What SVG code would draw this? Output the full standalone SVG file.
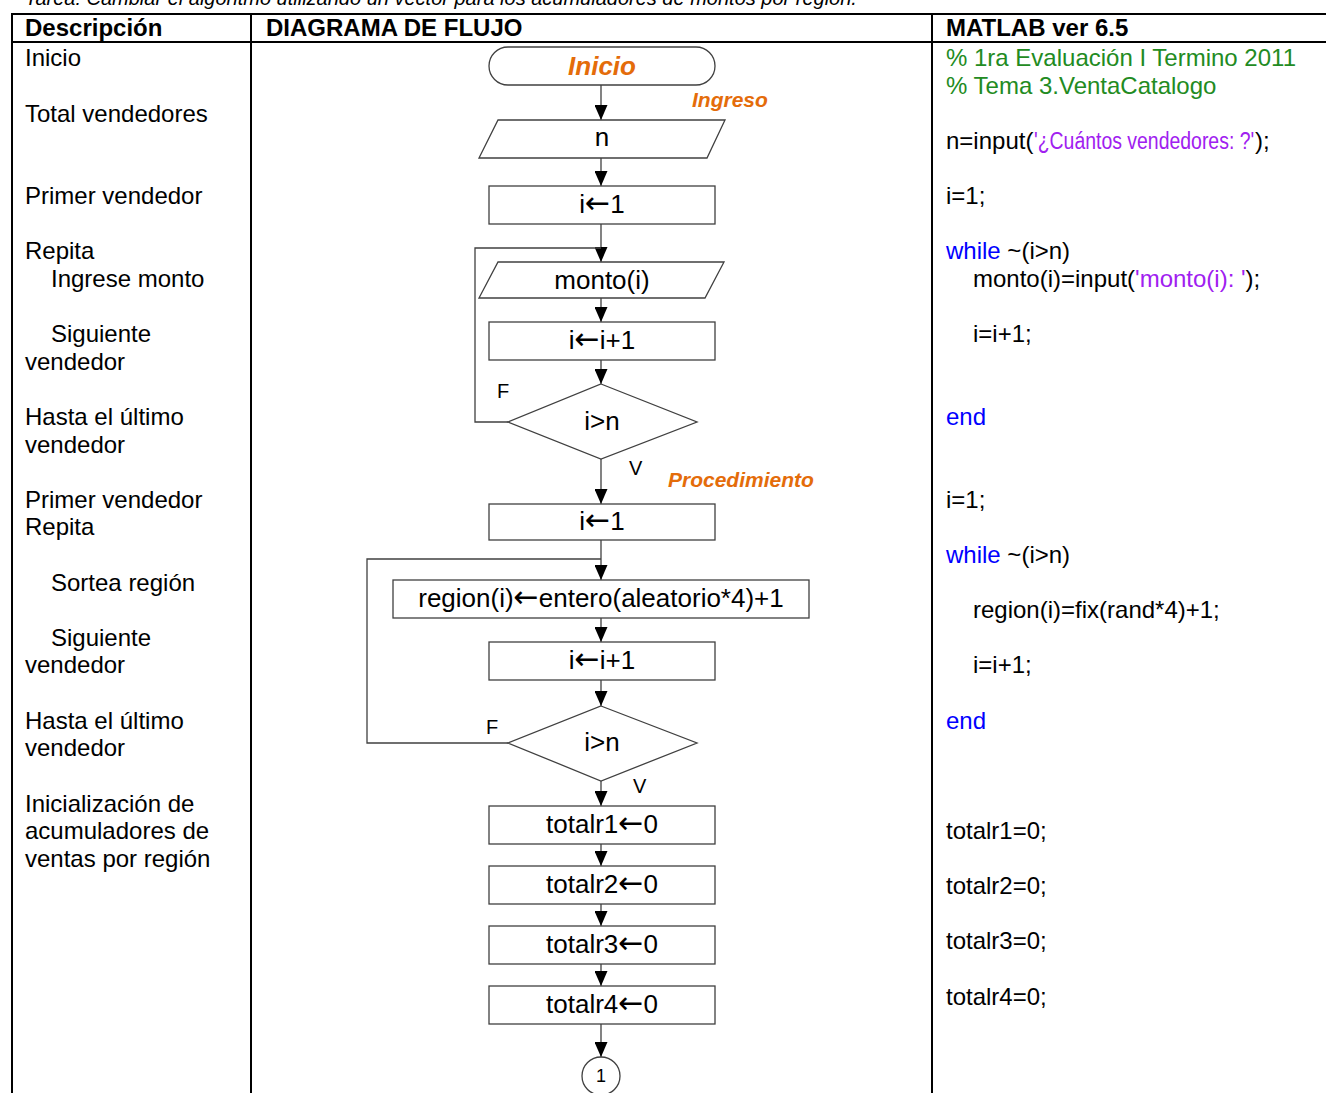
<svg xmlns="http://www.w3.org/2000/svg" width="1326" height="1093" viewBox="0 0 1326 1093">
<style>
  text { font-family: "Liberation Sans", Arial, sans-serif; fill: #000; }
  .t24 { font-size: 24px; }
  .hdr { font-size: 24px; font-weight: bold; }
  .fc { font-size: 26px; text-anchor: middle; }
  .ar { font-family: "DejaVu Sans", sans-serif; font-size: 30px; }
  .lbl { font-size: 20px; }
  .or { fill: #E46C0A; font-weight: bold; font-style: italic; }
  .grn { fill: #228B22; }
  .blu { fill: #0000FF; }
  .pur { fill: #A020F0; }
  .shape { fill: #fff; stroke: #404040; stroke-width: 1.3; }
  .conn { fill: none; stroke: #404040; stroke-width: 1.3; }
  .grid { stroke: #000; stroke-width: 2; }
</style>
<defs>
  <marker id="ah" markerUnits="userSpaceOnUse" markerWidth="15" markerHeight="13" viewBox="0 0 15 13" refX="15" refY="6.5" orient="auto">
    <path d="M0,0 L15,6.5 L0,13 Z" fill="#000"/>
  </marker>
</defs>
<rect width="1326" height="1093" fill="#fff"/>

<text x="25" y="5" style="font-size:20px;font-style:italic">Tarea: Cambiar el algoritmo utilizando un vector para los acumuladores de montos por región.</text>

<g id="table">
  <line class="grid" x1="11" y1="14" x2="1326" y2="14"/>
  <line class="grid" x1="11" y1="42" x2="1326" y2="42"/>
  <line class="grid" x1="12" y1="13" x2="12" y2="1093"/>
  <line class="grid" x1="251" y1="13" x2="251" y2="1093"/>
  <line class="grid" x1="932" y1="13" x2="932" y2="1093"/>
  <text class="hdr" x="25" y="36">Descripción</text>
  <text class="hdr" x="266" y="36">DIAGRAMA DE FLUJO</text>
  <text class="hdr" x="946" y="36">MATLAB ver 6.5</text>
</g>

<g id="descripcion">
  <text class="t24" x="25" y="66">Inicio</text>
  <text class="t24" x="25" y="122">Total vendedores</text>
  <text class="t24" x="25" y="204">Primer vendedor</text>
  <text class="t24" x="25" y="259">Repita</text>
  <text class="t24" x="51" y="287">Ingrese monto</text>
  <text class="t24" x="51" y="342">Siguiente</text>
  <text class="t24" x="25" y="370">vendedor</text>
  <text class="t24" x="25" y="425">Hasta el último</text>
  <text class="t24" x="25" y="453">vendedor</text>
  <text class="t24" x="25" y="508">Primer vendedor</text>
  <text class="t24" x="25" y="535">Repita</text>
  <text class="t24" x="51" y="591">Sortea región</text>
  <text class="t24" x="51" y="646">Siguiente</text>
  <text class="t24" x="25" y="673">vendedor</text>
  <text class="t24" x="25" y="729">Hasta el último</text>
  <text class="t24" x="25" y="756">vendedor</text>
  <text class="t24" x="25" y="812">Inicialización de</text>
  <text class="t24" x="25" y="839">acumuladores de</text>
  <text class="t24" x="25" y="867">ventas por región</text>
</g>

<g id="matlab">
  <text class="t24 grn" x="946" y="66">% 1ra Evaluación I Termino 2011</text>
  <text class="t24 grn" x="946" y="94">% Tema 3.VentaCatalogo</text>
  <text class="t24" x="946" y="149">n=input(</text>
  <text class="t24 pur" transform="translate(1034,149) scale(0.81,1)" x="0" y="0">'¿Cuántos vendedores: ?'</text>
  <text class="t24" x="1255" y="149">);</text>
  <text class="t24" x="946" y="204">i=1;</text>
  <text class="t24" x="946" y="259"><tspan class="blu">while</tspan> ~(i&gt;n)</text>
  <text class="t24" x="973" y="287">monto(i)=input(<tspan class="pur">'monto(i): '</tspan>);</text>
  <text class="t24" x="973" y="342">i=i+1;</text>
  <text class="t24 blu" x="946" y="425">end</text>
  <text class="t24" x="946" y="508">i=1;</text>
  <text class="t24" x="946" y="563"><tspan class="blu">while</tspan> ~(i&gt;n)</text>
  <text class="t24" x="973" y="618">region(i)=fix(rand*4)+1;</text>
  <text class="t24" x="973" y="673">i=i+1;</text>
  <text class="t24 blu" x="946" y="729">end</text>
  <text class="t24" x="946" y="839">totalr1=0;</text>
  <text class="t24" x="946" y="894">totalr2=0;</text>
  <text class="t24" x="946" y="949">totalr3=0;</text>
  <text class="t24" x="946" y="1005">totalr4=0;</text>
</g>

<g id="connectors">
  <line class="conn" x1="601" y1="85" x2="601" y2="120" marker-end="url(#ah)"/>
  <line class="conn" x1="601" y1="158" x2="601" y2="186" marker-end="url(#ah)"/>
  <line class="conn" x1="601" y1="224" x2="601" y2="262" marker-end="url(#ah)"/>
  <polyline class="conn" points="508,422 475,422 475,248 601,248"/>
  <line class="conn" x1="601" y1="298" x2="601" y2="322" marker-end="url(#ah)"/>
  <line class="conn" x1="601" y1="360" x2="601" y2="384" marker-end="url(#ah)"/>
  <line class="conn" x1="601" y1="459" x2="601" y2="504" marker-end="url(#ah)"/>
  <line class="conn" x1="601" y1="540" x2="601" y2="580" marker-end="url(#ah)"/>
  <polyline class="conn" points="508,743 367,743 367,559 601,559"/>
  <line class="conn" x1="601" y1="618" x2="601" y2="642" marker-end="url(#ah)"/>
  <line class="conn" x1="601" y1="680" x2="601" y2="706" marker-end="url(#ah)"/>
  <line class="conn" x1="601" y1="781" x2="601" y2="806" marker-end="url(#ah)"/>
  <line class="conn" x1="601" y1="844" x2="601" y2="866" marker-end="url(#ah)"/>
  <line class="conn" x1="601" y1="904" x2="601" y2="926" marker-end="url(#ah)"/>
  <line class="conn" x1="601" y1="964" x2="601" y2="986" marker-end="url(#ah)"/>
  <line class="conn" x1="601" y1="1024" x2="601" y2="1057" marker-end="url(#ah)"/>
  <text class="lbl" x="497" y="398">F</text>
  <text class="lbl" x="629" y="475">V</text>
  <text class="lbl" x="486" y="734">F</text>
  <text class="lbl" x="633" y="793">V</text>
  <text class="or" x="692" y="107" style="font-size:21px">Ingreso</text>
  <text class="or" x="668" y="487" style="font-size:21px">Procedimiento</text>
</g>

<g id="inicio">
  <rect class="shape" x="489" y="47" width="226" height="38" rx="19" ry="19"/>
  <text class="fc or" x="602" y="75">Inicio</text>
</g>
<g id="leer_n">
  <polygon class="shape" points="498,120 725,120 707,158 479,158"/>
  <text class="fc" x="602" y="146">n</text>
</g>
<g id="i_1a">
  <rect class="shape" x="489" y="186" width="226" height="38"/>
  <text class="fc" x="602" y="213">i<tspan class="ar">←</tspan>1</text>
</g>
<g id="leer_monto">
  <polygon class="shape" points="498,262 724,262 705,298 479,298"/>
  <text class="fc" x="602" y="289">monto(i)</text>
</g>
<g id="inc_a">
  <rect class="shape" x="489" y="322" width="226" height="38"/>
  <text class="fc" x="602" y="349">i<tspan class="ar">←</tspan>i+1</text>
</g>
<g id="cond_a">
  <polygon class="shape" points="601,384 697,422 601,459 508,422"/>
  <text class="fc" x="602" y="430">i&gt;n</text>
</g>
<g id="i_1b">
  <rect class="shape" x="489" y="504" width="226" height="36"/>
  <text class="fc" x="602" y="530">i<tspan class="ar">←</tspan>1</text>
</g>
<g id="region">
  <rect class="shape" x="393" y="580" width="416" height="38"/>
  <text class="fc" x="601" y="607">region(i)<tspan class="ar">←</tspan>entero(aleatorio*4)+1</text>
</g>
<g id="inc_b">
  <rect class="shape" x="489" y="642" width="226" height="38"/>
  <text class="fc" x="602" y="669">i<tspan class="ar">←</tspan>i+1</text>
</g>
<g id="cond_b">
  <polygon class="shape" points="601,706 697,743 601,781 508,743"/>
  <text class="fc" x="602" y="751">i&gt;n</text>
</g>
<g id="totalr1">
  <rect class="shape" x="489" y="806" width="226" height="38"/>
  <text class="fc" x="602" y="833">totalr1<tspan class="ar">←</tspan>0</text>
</g>
<g id="totalr2">
  <rect class="shape" x="489" y="866" width="226" height="38"/>
  <text class="fc" x="602" y="893">totalr2<tspan class="ar">←</tspan>0</text>
</g>
<g id="totalr3">
  <rect class="shape" x="489" y="926" width="226" height="38"/>
  <text class="fc" x="602" y="953">totalr3<tspan class="ar">←</tspan>0</text>
</g>
<g id="totalr4">
  <rect class="shape" x="489" y="986" width="226" height="38"/>
  <text class="fc" x="602" y="1013">totalr4<tspan class="ar">←</tspan>0</text>
</g>
<g id="conector1">
  <circle class="shape" cx="601" cy="1076" r="19"/>
  <text x="601" y="1082" style="font-size:18px;text-anchor:middle">1</text>
</g>
</svg>
